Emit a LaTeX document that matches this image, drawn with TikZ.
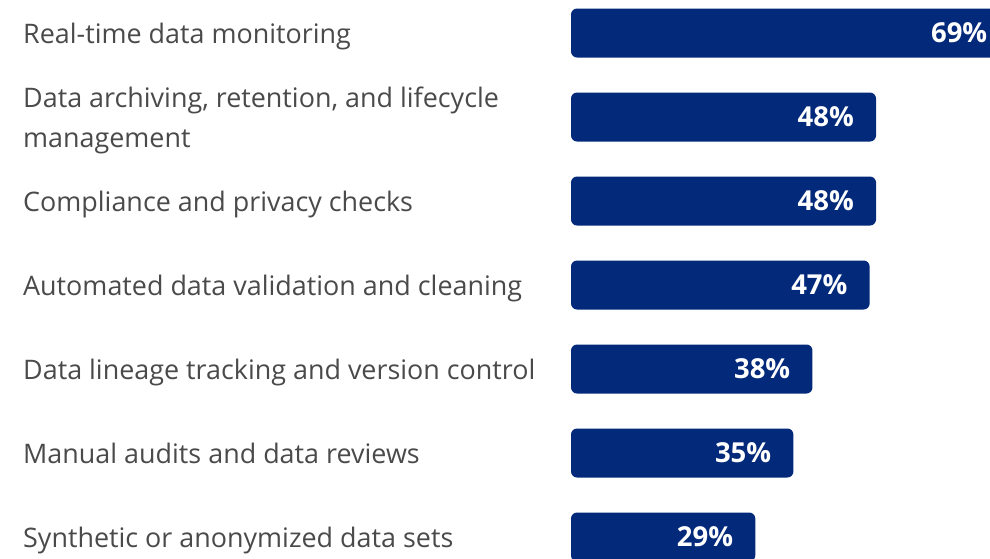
\documentclass[tikz,border=0pt]{standalone}
\usepackage{fontspec}
\setmainfont{Open Sans}
\definecolor{barblue}{HTML}{03297A}
\definecolor{labgray}{HTML}{4A4A4A}
\begin{document}
\begin{tikzpicture}[x=1pt,y=-1pt,
  lab/.style={anchor=base west,inner sep=0pt,text=labgray,font=\fontsize{26.9}{40}\selectfont},
  bar/.style={fill=barblue,rounded corners=6pt,draw=none},
  pct/.style={anchor=east,inner sep=0pt,text=white,font=\fontsize{27.5}{30}\selectfont\bfseries}]
\useasboundingbox (0,0) rectangle (990,558);
\clip (0,0) rectangle (990,558);
\foreach \i/\p in {0/69,1/48,2/48,3/47,4/38,5/35,6/29}{
  \pgfmathsetmacro{\yc}{33+84*\i}
  \pgfmathsetmacro{\xe}{571+6.354*\p}
  \path[bar] (571,\yc-24.5) rectangle (\xe,\yc+24.5);
  \node[pct] (p\i) at (\xe-22,\yc) {\p\%};
}
\node[lab] (l0) at (23,43) {Real-time data monitoring};
\node[lab] (l1a) at (23,107) {Data archiving, retention, and lifecycle};
\node[lab] (l1b) at (23,147) {management};
\node[lab] (l2) at (23,211) {Compliance and privacy checks};
\node[lab] (l3) at (23,295) {Automated data validation and cleaning};
\node[lab] (l4) at (23,379) {Data lineage tracking and version control};
\node[lab] (l5) at (23,463) {Manual audits and data reviews};
\node[lab] (l6) at (23,547) {Synthetic or anonymized data sets};
\end{tikzpicture}
\end{document}
